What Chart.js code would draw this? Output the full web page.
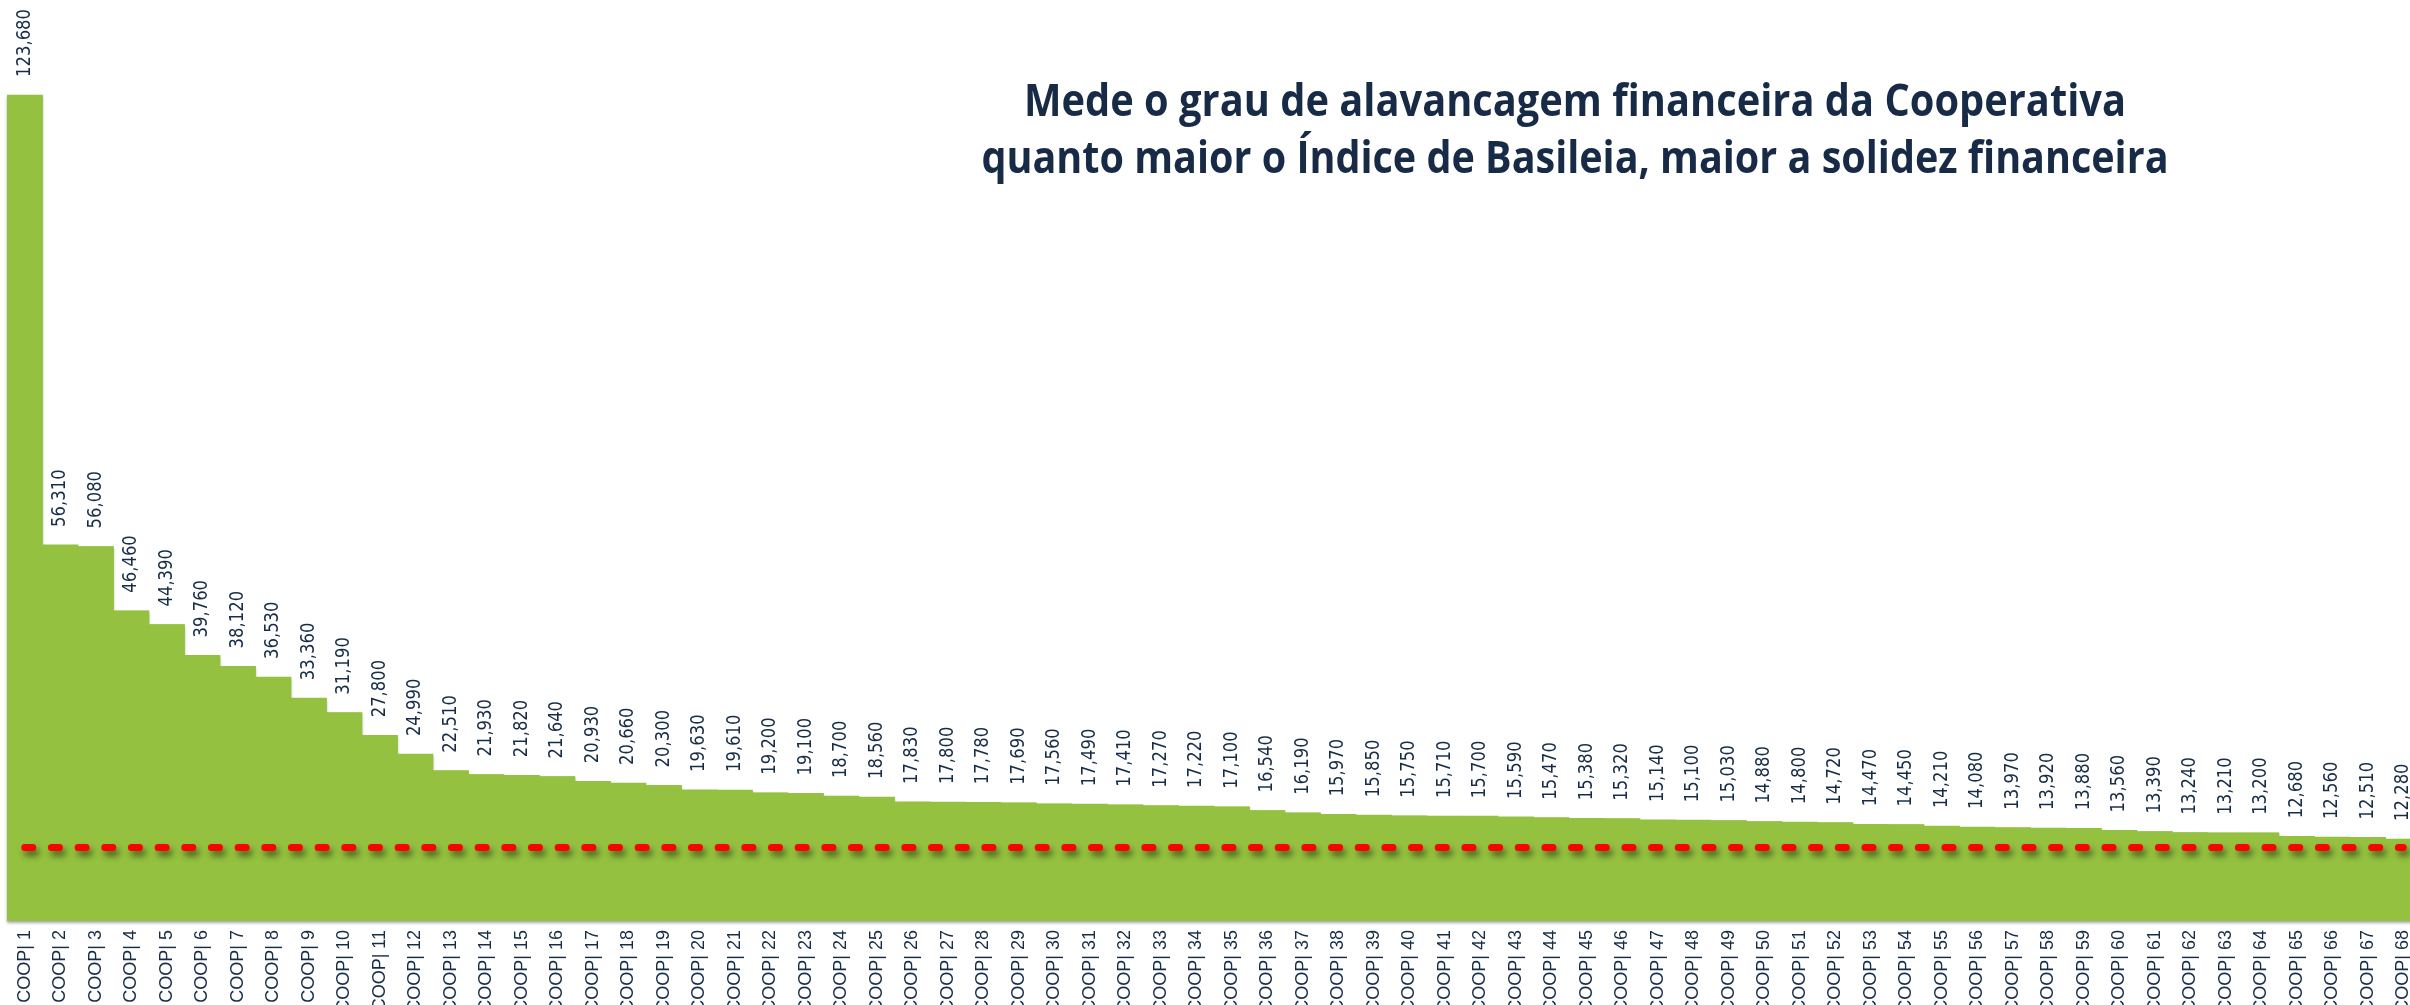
<!DOCTYPE html>
<html lang="pt-BR">
<head>
<meta charset="utf-8">
<title>Índice de Basileia por Cooperativa</title>
<script src="https://cdn.jsdelivr.net/npm/chart.js@4/dist/chart.umd.min.js"></script>
<style>
  html, body { margin: 0; padding: 0; background: #ffffff; overflow: hidden; }
  #wrap { position: relative; width: 2421px; height: 1005px; }
  canvas { display: block; }
</style>
</head>
<body>
<div id="wrap"><canvas id="chart" width="2421" height="1005"></canvas></div>
<script>
// Cooperativas, ordenadas pelo Índice de Basileia
const categories = Array.from({ length: 68 }, (_, i) => 'COOP| ' + (i + 1));

// Índice de Basileia (%)
const basileia = [
  123.68, 56.31, 56.08, 46.46, 44.39, 39.76, 38.12, 36.53, 33.36, 31.19,
  27.80, 24.99, 22.51, 21.93, 21.82, 21.64, 20.93, 20.66, 20.30, 19.63,
  19.61, 19.20, 19.10, 18.70, 18.56, 17.83, 17.80, 17.78, 17.69, 17.56,
  17.49, 17.41, 17.27, 17.22, 17.10, 16.54, 16.19, 15.97, 15.85, 15.75,
  15.71, 15.70, 15.59, 15.47, 15.38, 15.32, 15.14, 15.10, 15.03, 14.88,
  14.80, 14.72, 14.47, 14.45, 14.21, 14.08, 13.97, 13.92, 13.88, 13.56,
  13.39, 13.24, 13.21, 13.20, 12.68, 12.56, 12.51, 12.28
];

// Limite mínimo regulatório
const minimoBasileia = 11;
const linhaMinimo = categories.map(() => minimoBasileia);

const titleLines = [
  'Mede o grau de alavancagem financeira da Cooperativa',
  'quanto maior o Índice de Basileia, maior a solidez financeira'
];

const GREEN = '#94C13F';
const NAVY = '#172D47';

const fmt = v => v.toFixed(3).replace('.', ',');

// Sombra única sob o conjunto das barras; sombra da linha tracejada
const shadows = {
  id: 'shadows',
  beforeDatasetDraw(chart, args) {
    const ctx = chart.ctx;
    if (args.index === 0) {
      const bars = args.meta.data;
      ctx.save();
      ctx.beginPath();
      bars.forEach(b => {
        const w = b.width;
        ctx.rect(b.x - w / 2, b.y, w, b.base - b.y);
      });
      ctx.shadowColor = 'rgba(0,0,0,0.35)';
      ctx.shadowBlur = 3;
      ctx.shadowOffsetY = 2;
      ctx.fillStyle = GREEN;
      ctx.fill();
      ctx.restore();
    } else if (args.index === 1) {
      ctx.save();
      ctx.shadowColor = 'rgba(0,0,0,0.5)';
      ctx.shadowBlur = 6;
      ctx.shadowOffsetX = 3;
      ctx.shadowOffsetY = 5;
    }
  },
  afterDatasetDraw(chart, args) {
    if (args.index === 1) chart.ctx.restore();
  }
};

// Rótulos de valor verticais acima das barras
const valueLabels = {
  id: 'valueLabels',
  afterDatasetsDraw(chart) {
    const ctx = chart.ctx;
    const meta = chart.getDatasetMeta(0);
    ctx.save();
    ctx.fillStyle = NAVY;
    ctx.font = '19px "DejaVu Sans"';
    ctx.textAlign = 'left';
    ctx.textBaseline = 'middle';
    const squeeze = 68 / ctx.measureText(fmt(basileia[0])).width;
    meta.data.forEach((bar, i) => {
      ctx.save();
      ctx.translate(bar.x, bar.y - 18);
      ctx.rotate(-Math.PI / 2);
      ctx.scale(squeeze, 1);
      ctx.fillText(fmt(basileia[i]), 0, 0);
      ctx.restore();
    });
    ctx.restore();
  }
};

// Título em duas linhas
const titleBlock = {
  id: 'titleBlock',
  afterDraw(chart) {
    const ctx = chart.ctx;
    const lines = [
      { text: titleLines[0], y: 116, width: 1102 },
      { text: titleLines[1], y: 173, width: 1187 }
    ];
    ctx.save();
    ctx.fillStyle = '#172B47';
    ctx.font = 'bold 44px "Open Sans"';
    ctx.textAlign = 'center';
    ctx.textBaseline = 'alphabetic';
    lines.forEach(l => {
      const w = ctx.measureText(l.text).width;
      ctx.save();
      ctx.translate(1575, l.y);
      ctx.scale(l.width / w, 1);
      ctx.fillText(l.text, 0, 0);
      ctx.restore();
    });
    ctx.restore();
  }
};

new Chart(document.getElementById('chart'), {
  data: {
    labels: categories,
    datasets: [
      {
        type: 'bar',
        data: basileia,
        backgroundColor: GREEN,
        borderWidth: 0,
        barPercentage: 1,
        categoryPercentage: 1,
        order: 1
      },
      {
        type: 'line',
        data: linhaMinimo,
        borderColor: '#FF0000',
        borderWidth: 7,
        borderDash: [8, 18.67],
        borderCapStyle: 'round',
        pointRadius: 0,
        fill: false,
        order: 0
      }
    ]
  },
  options: {
    responsive: false,
    animation: false,
    layout: { padding: { left: 7, right: 0, top: 0, bottom: 0 } },
    plugins: {
      legend: { display: false },
      tooltip: { enabled: false },
      title: { display: false }
    },
    scales: {
      x: {
        grid: { display: false, drawTicks: false },
        border: { display: false },
        ticks: {
          autoSkip: false,
          minRotation: 90,
          maxRotation: 90,
          padding: 9,
          color: NAVY,
          font: { family: '"Liberation Sans", Arial, sans-serif', size: 18 }
        },
        afterFit(scale) {
          scale.height = 84;
          scale.paddingLeft = 0;
          scale.paddingRight = 0;
        }
      },
      y: {
        display: false,
        min: 0,
        max: 137.9
      }
    }
  },
  plugins: [shadows, valueLabels, titleBlock]
});
</script>
</body>
</html>
